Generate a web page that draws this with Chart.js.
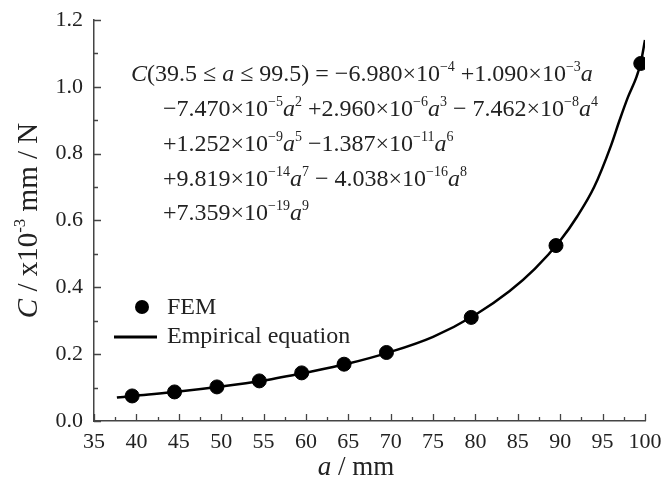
<!DOCTYPE html>
<html>
<head>
<meta charset="utf-8">
<script src="https://cdn.jsdelivr.net/npm/chart.js@4.4.1/dist/chart.umd.min.js"></script>
<style>
  html, body { margin: 0; padding: 0; background: #fff; }
  #wrap { width: 661px; height: 482px; }
</style>
</head>
<body>
<div id="wrap"><canvas id="chart" width="661" height="482"></canvas></div>
<script>
// FEM results
const femA = [39.5, 44.5, 49.5, 54.5, 59.5, 64.5, 69.5, 79.5, 89.5, 99.5];
const femC = [0.075, 0.087, 0.102, 0.120, 0.144, 0.170, 0.205, 0.310, 0.525, 1.070];

// empirical curve
const fitA = [37.7, 40, 45, 50, 55, 60, 65, 70, 75, 80, 84, 87, 90, 92, 94, 96, 97, 98, 99, 99.5, 100];
const fitC = [0.070, 0.076, 0.088, 0.103, 0.121, 0.145, 0.172, 0.207, 0.252, 0.318, 0.388, 0.455,
              0.540, 0.612, 0.700, 0.825, 0.900, 0.970, 1.030, 1.072, 1.140];

const xMin = 35, xMax = 100, xStep = 5;
const yMin = 0, yMax = 1.2, yStep = 0.2;

// equation text: [text, style]  n = normal, i = italic, s = superscript
const eqLines = [
  [['C', 'i'], ['(39.5 \u2264 ', 'n'], ['a', 'i'], [' \u2264 99.5) = \u22126.980\u00d710', 'n'], ['\u22124', 's'],
   [' +1.090\u00d710', 'n'], ['\u22123', 's'], ['a', 'i']],
  [['\u22127.470\u00d710', 'n'], ['\u22125', 's'], ['a', 'i'], ['2', 's'], [' +2.960\u00d710', 'n'], ['\u22126', 's'],
   ['a', 'i'], ['3', 's'], [' \u2212 7.462\u00d710', 'n'], ['\u22128', 's'], ['a', 'i'], ['4', 's']],
  [['+1.252\u00d710', 'n'], ['\u22129', 's'], ['a', 'i'], ['5', 's'], [' \u22121.387\u00d710', 'n'], ['\u221211', 's'],
   ['a', 'i'], ['6', 's']],
  [['+9.819\u00d710', 'n'], ['\u221214', 's'], ['a', 'i'], ['7', 's'], [' \u2212 4.038\u00d710', 'n'], ['\u221216', 's'],
   ['a', 'i'], ['8', 's']],
  [['+7.359\u00d710', 'n'], ['\u221219', 's'], ['a', 'i'], ['9', 's']]
];
const yTitle = [['C', 'i'], [' / x10', 'n'], ['-3', 's'], [' mm / N', 'n']];
const xTitle = [['a', 'i'], [' / mm', 'n']];

const SERIF = '"Liberation Serif", "Times New Roman", serif';
const ink = '#222';
const axisColor = '#444';

function setFont(ctx, st, size) {
  const sz = st === 's' ? Math.round(size * 0.6) : size;
  ctx.font = (st === 'i' ? 'italic ' : '') + sz + 'px ' + SERIF;
}
function runsWidth(ctx, runs, size) {
  let w = 0;
  runs.forEach(([t, st]) => { setFont(ctx, st, size); w += ctx.measureText(t).width; });
  return w;
}
function drawRuns(ctx, x, y, runs, size) {
  let cx = x;
  runs.forEach(([t, st]) => {
    setFont(ctx, st, size);
    ctx.fillText(t, cx, st === 's' ? y - size * 0.42 : y);
    cx += ctx.measureText(t).width;
  });
}

const inwardTicks = {
  id: 'inwardTicks',
  afterDraw(chart) {
    const { ctx, chartArea: area, scales: { x, y } } = chart;
    ctx.save();
    ctx.strokeStyle = axisColor;
    ctx.lineWidth = 1.3;
    ctx.beginPath();
    for (let i = 0; i <= (xMax - xMin) / xStep * 2; i++) {
      const v = xMin + i * xStep / 2;
      const px = Math.round(x.getPixelForValue(v)) + 0.5;
      ctx.moveTo(px, area.bottom);
      ctx.lineTo(px, area.bottom - (i % 2 ? 4 : 7));
    }
    for (let i = 0; i <= Math.round((yMax - yMin) / yStep * 2); i++) {
      const v = yMin + i * yStep / 2;
      const py = Math.round(y.getPixelForValue(v)) + 0.5;
      ctx.moveTo(area.left, py);
      ctx.lineTo(area.left + (i % 2 ? 4 : 7), py);
    }
    ctx.stroke();
    ctx.restore();
  }
};

const annotations = {
  id: 'annotations',
  afterDraw(chart) {
    const { ctx, chartArea: area } = chart;
    ctx.save();
    ctx.fillStyle = ink;
    ctx.textBaseline = 'alphabetic';
    ctx.textAlign = 'left';

    // equation block
    const eqX = [131, 163, 163, 163, 163];
    const eqY = [81, 116, 151, 186, 220];
    eqLines.forEach((runs, i) => drawRuns(ctx, eqX[i], eqY[i], runs, 24));

    // x title
    const xw = runsWidth(ctx, xTitle, 27);
    drawRuns(ctx, 356 - xw / 2, 475, xTitle, 27);

    // y title (rotated)
    const yw = runsWidth(ctx, yTitle, 29);
    ctx.translate(37, (area.top + area.bottom) / 2);
    ctx.rotate(-Math.PI / 2);
    drawRuns(ctx, -yw / 2, 0, yTitle, 29);
    ctx.setTransform(1, 0, 0, 1, 0, 0);

    // legend
    ctx.fillStyle = '#000';
    ctx.beginPath();
    ctx.arc(142, 307, 7, 0, Math.PI * 2);
    ctx.fill();
    ctx.strokeStyle = '#000';
    ctx.lineWidth = 3;
    ctx.beginPath();
    ctx.moveTo(114, 337);
    ctx.lineTo(157, 337);
    ctx.stroke();
    ctx.fillStyle = ink;
    ctx.font = '24px ' + SERIF;
    ctx.textBaseline = 'middle';
    ctx.fillText('FEM', 167, 308);
    ctx.fillText('Empirical equation', 167, 337);
    ctx.restore();
  }
};

new Chart(document.getElementById('chart'), {
  type: 'scatter',
  data: {
    datasets: [
      {
        label: 'Empirical equation',
        data: fitA.map((a, i) => ({ x: a, y: fitC[i] })),
        showLine: true,
        borderColor: '#000',
        borderWidth: 2.5,
        pointRadius: 0,
        cubicInterpolationMode: 'monotone',
        order: 2
      },
      {
        label: 'FEM',
        data: femA.map((a, i) => ({ x: a, y: femC[i] })),
        backgroundColor: '#000',
        borderColor: '#000',
        pointRadius: 7,
        pointHoverRadius: 7,
        order: 1
      }
    ]
  },
  options: {
    responsive: false,
    animation: false,
    events: [],
    layout: { padding: { left: 0, top: 20, right: 16, bottom: 0 } },
    plugins: { legend: { display: false }, tooltip: { enabled: false } },
    scales: {
      x: {
        type: 'linear',
        min: xMin, max: xMax,
        ticks: { stepSize: xStep, color: ink, font: { family: SERIF, size: 22 }, padding: 0, maxRotation: 0 },
        grid: { display: false },
        border: { color: axisColor, width: 1.5 },
        afterFit: s => { s.height = 61; s.paddingLeft = 0; s.paddingRight = 0; }
      },
      y: {
        min: yMin, max: yMax,
        ticks: { stepSize: yStep, color: ink, font: { family: SERIF, size: 22 }, padding: 3,
                 callback: v => v.toFixed(1) },
        grid: { display: false },
        border: { color: axisColor, width: 1.5 },
        afterFit: s => { s.width = 94; s.paddingTop = 0; s.paddingBottom = 0; }
      }
    }
  },
  plugins: [inwardTicks, annotations]
});
</script>
</body>
</html>
